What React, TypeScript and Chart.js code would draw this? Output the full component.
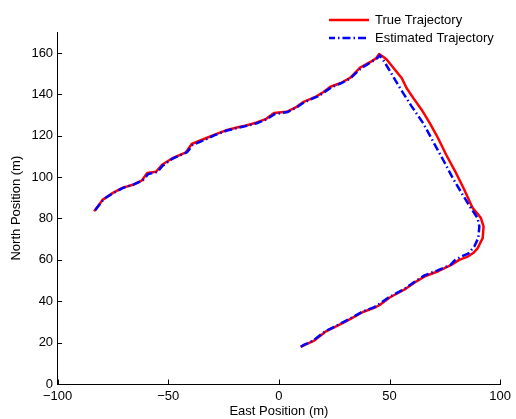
import React, { useEffect, useRef } from "react";
import { Chart, registerables } from "chart.js";

Chart.register(...registerables);

// True trajectory (East, North) in metres
const trueEast = [
  -83.5, -81, -79.7, -75, -70.7, -66, -62, -59.5, -55.5, -52.8, -48.3, -42, -39.4, -33, -29, -24.2, -19, -15.2,
  -10.3, -6, -2.2, 3.6, 8, 11.2, 17, 20, 23.3, 28, 32.2, 36.7, 41.6, 44, 45.3, 47, 48.8, 51.8, 55.5, 57.7, 60.7,
  64.5, 68.2, 71.9, 75.6, 80.1, 83.8, 87.6, 89.8, 91.3, 92.5, 92.1, 89.8, 87.8, 85.4, 81.5, 77.9, 72, 66.3, 62,
  57.3, 53, 50.1, 46, 43.9, 38, 32.2, 27, 21.5, 15.7, 12, 9.8,
];
const trueNorth = [
  83.5, 87, 89, 92.4, 94.8, 96.3, 98.3, 102, 102.6, 106, 109, 112, 116, 118.8, 120.5, 122.5, 124, 124.8, 126.3, 128,
  131, 131.6, 134, 136.4, 139, 141, 143.7, 145.5, 148, 152.9, 155.8, 157.5, 159.5, 158.3, 156.7, 152.7, 147.9,
  143.1, 138.3, 132.6, 126.1, 118.9, 110.8, 101.9, 93.9, 85, 82.3, 80.2, 76.1, 70.5, 65.6, 63.3, 61.6, 60, 57.6,
  54.5, 52.2, 49.5, 46, 43.5, 41.8, 38.5, 37.2, 34.8, 31.4, 28.5, 25.6, 20.8, 19, 17.9,
];

// Estimated trajectory (East, North) in metres
const estEast = [
  -83, -80.5, -79, -74.5, -70, -65.5, -61.5, -59, -55, -52.5, -48, -41.5, -39, -32.5, -28.5, -23.5, -18.5, -14.5,
  -10, -5.5, -1.8, 4, 8.5, 11.5, 17.5, 20.5, 23.8, 28.5, 32.6, 37, 42, 44.5, 45.6, 47.5, 50.3, 54.7, 60, 65.2,
  69.7, 74.2, 78.6, 83.1, 86.8, 89.8, 90.6, 90.1, 88.3, 85.5, 82.4, 79.5, 77.5, 71.5, 65.8, 61.5, 57, 52.5, 49.5,
  45.5, 43.2, 37.5, 31.8, 26.5, 21, 15.2, 11.5, 9.3,
];
const estNorth = [
  84, 87.5, 89.5, 92.5, 95, 96.5, 98.5, 101.5, 102.5, 105.5, 109, 112, 115.5, 118.5, 120.5, 122.5, 123.8, 124.8, 126,
  128, 130.5, 131.5, 134, 136.2, 139, 141, 143.5, 145.5, 148, 152.5, 155.8, 157.5, 158.8, 156, 151.1, 143.1, 134.2,
  126.1, 117.2, 108.4, 99.5, 91.4, 85, 80.2, 76.1, 70.5, 66.4, 63, 61.6, 59.8, 57.5, 54.8, 52.5, 49.5, 46.2, 43.5,
  41.8, 38.8, 37.2, 34.8, 31.4, 28.4, 25.5, 20.8, 19, 17.6,
];

const seriesLabels = ["True Trajectory", "Estimated Trajectory"];
const xTicks = [-100, -50, 0, 50, 100];
const yTicks = [0, 20, 40, 60, 80, 100, 120, 140, 160];

const FONT = "'Liberation Sans', Arial, Helvetica, sans-serif";
const DASH = [8, 3, 1.5, 3];

const fmt = (v: number) => (v < 0 ? "\u2212" + Math.abs(v) : String(v));

const decor = {
  id: "decor",
  afterDraw(chart: any) {
    const ctx = chart.ctx;
    const xs = chart.scales.x;
    const ys = chart.scales.y;
    const area = chart.chartArea;
    ctx.save();
    ctx.strokeStyle = "#000";
    ctx.lineWidth = 1;
    ctx.beginPath();
    const tl = 4.5;
    xTicks.forEach((v) => {
      const px = Math.round(xs.getPixelForValue(v)) + 0.5;
      ctx.moveTo(px, area.bottom);
      ctx.lineTo(px, area.bottom - tl);
    });
    yTicks.forEach((v) => {
      const py = Math.round(ys.getPixelForValue(v)) + 0.5;
      ctx.moveTo(area.left, py);
      ctx.lineTo(area.left + tl, py);
    });
    ctx.stroke();

    // legend
    const lx0 = 329;
    const lx1 = 369;
    const rows = [20, 38];
    ctx.lineWidth = 2.5;
    ctx.strokeStyle = "#ff0000";
    ctx.setLineDash([]);
    ctx.beginPath();
    ctx.moveTo(lx0, rows[0]);
    ctx.lineTo(lx1, rows[0]);
    ctx.stroke();
    ctx.strokeStyle = "#0000ff";
    ctx.setLineDash(DASH);
    ctx.lineDashOffset = 2;
    ctx.beginPath();
    ctx.moveTo(lx0, rows[1]);
    ctx.lineTo(lx1, rows[1]);
    ctx.stroke();
    ctx.setLineDash([]);
    ctx.fillStyle = "#000";
    ctx.font = "13px " + FONT;
    ctx.textAlign = "left";
    ctx.textBaseline = "middle";
    ctx.fillText(seriesLabels[0], 375, rows[0]);
    ctx.fillText(seriesLabels[1], 375, rows[1]);
    ctx.restore();
  },
};

export default function App() {
  const ref = useRef<HTMLCanvasElement | null>(null);
  useEffect(() => {
    if (!ref.current) return;
    Chart.defaults.font.family = FONT;
    const chart = new Chart(ref.current, {
      type: "scatter",
      data: {
        datasets: [
          {
            label: seriesLabels[0],
            data: trueEast.map((x, i) => ({ x, y: trueNorth[i] })),
            showLine: true,
            borderColor: "#ff0000",
            backgroundColor: "#ff0000",
            borderWidth: 2.5,
            pointRadius: 0,
            tension: 0,
            borderJoinStyle: "round",
            order: 1,
          },
          {
            label: seriesLabels[1],
            data: estEast.map((x, i) => ({ x, y: estNorth[i] })),
            showLine: true,
            borderColor: "#0000ff",
            backgroundColor: "#0000ff",
            borderWidth: 2.5,
            borderDash: DASH,
            pointRadius: 0,
            tension: 0,
            order: 0,
          },
        ],
      },
      options: {
        animation: false,
        responsive: false,
        devicePixelRatio: 1,
        layout: { padding: { left: 0, right: 11.6, top: 32.3, bottom: 0 } },
        plugins: { legend: { display: false }, tooltip: { enabled: false } },
        scales: {
          x: {
            type: "linear",
            min: -100,
            max: 100,
            afterBuildTicks: (s: any) => {
              s.ticks = xTicks.map((v) => ({ value: v }));
            },
            afterFit: (s: any) => {
              s.height = 35;
            },
            grid: { display: false, drawTicks: false },
            border: { display: true, color: "#000", width: 1 },
            ticks: {
              padding: 5,
              color: "#000",
              font: { size: 13, family: FONT },
              maxRotation: 0,
              autoSkip: false,
              callback: (v: any) => fmt(Number(v)),
            },
            title: {
              display: true,
              text: "East Position (m)",
              color: "#000",
              font: { size: 13, family: FONT },
              padding: { top: 0, bottom: 0 },
            },
          },
          y: {
            type: "linear",
            min: 0,
            max: 170,
            afterBuildTicks: (s: any) => {
              s.ticks = yTicks.map((v) => ({ value: v }));
            },
            afterFit: (s: any) => {
              s.width = 57.6;
            },
            grid: { display: false, drawTicks: false },
            border: { display: true, color: "#000", width: 1 },
            ticks: {
              padding: 4.5,
              color: "#000",
              font: { size: 13, family: FONT },
              autoSkip: false,
              callback: (v: any) => fmt(Number(v)),
            },
            title: {
              display: true,
              text: "North Position (m)",
              color: "#000",
              font: { size: 13, family: FONT },
              padding: { top: 9, bottom: 0 },
            },
          },
        },
      },
      plugins: [decor],
    } as any);
    return () => chart.destroy();
  }, []);
  return (
    <div style={{ position: "fixed", left: 0, top: 0, width: 516, height: 419, background: "#fff" }}>
      <canvas ref={ref} width={516} height={419} style={{ width: 516, height: 419 }} />
    </div>
  );
}
